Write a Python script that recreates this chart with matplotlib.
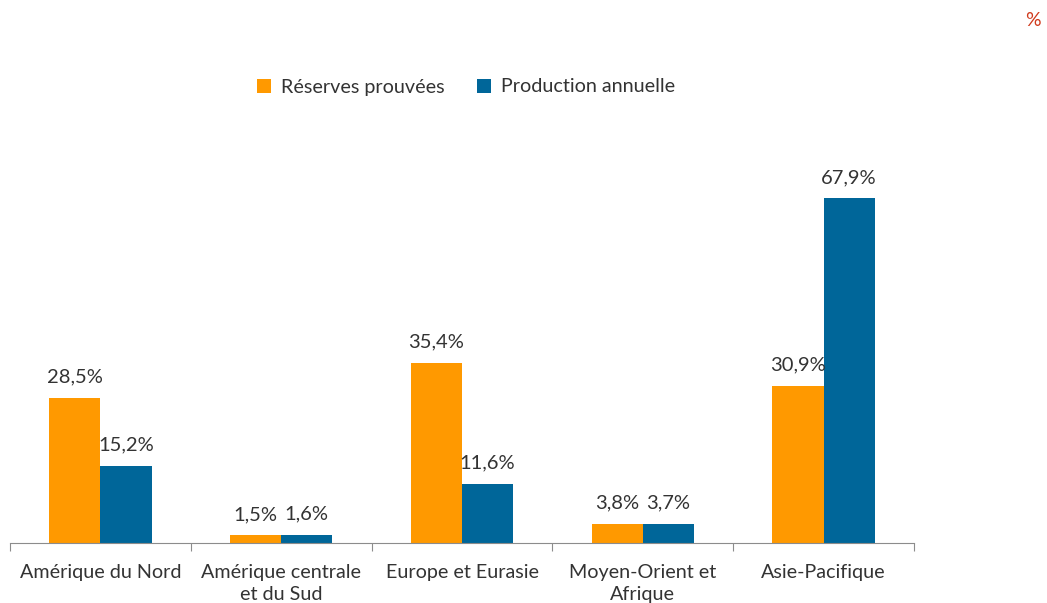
import numpy as np
import matplotlib.pyplot as plt

regions = ['Amérique du Nord', 'Amérique centrale\net du Sud', 'Europe et Eurasie',
           'Moyen-Orient et\nAfrique', 'Asie-Pacifique']
reserves = [28.5, 1.5, 35.4, 3.8, 30.9]
production = [15.2, 1.6, 11.6, 3.7, 67.9]
series_names = ['Réserves prouvées', 'Production annuelle']

plt.rcParams['font.family'] = ['Lato', 'DejaVu Sans']
orange = '#FF9900'
blue = '#006699'
txt = '#333333'

fig = plt.figure(figsize=(10.47, 6.03), dpi=100)
ax = fig.add_axes([10 / 1047, 60 / 603, 904 / 1047, 406 / 603])

index = np.arange(len(regions))
bar_width = 0.283
b1 = ax.bar(index - bar_width / 2, reserves, bar_width, color=orange, label=series_names[0])
b2 = ax.bar(index + bar_width / 2, production, bar_width, color=blue, label=series_names[1])

def fmt(v):
    return ('%.1f%%' % v).replace('.', ',')

for bars, vals in ((b1, reserves), (b2, production)):
    for rect, v in zip(bars, vals):
        ax.annotate(fmt(v), (rect.get_x() + rect.get_width() / 2, rect.get_height()),
                    xytext=(0, 9), textcoords='offset points', ha='center', va='bottom',
                    fontsize=14.5, color=txt)

ax.set_xlim(-0.5, len(regions) - 0.5)
ax.set_ylim(0, 80)
ax.set_yticks([])
for s in ['top', 'right', 'left']:
    ax.spines[s].set_visible(False)
ax.spines['bottom'].set_color('#8c8c8c')
ax.set_xticks(np.arange(len(regions) + 1) - 0.5, minor=False)
ax.set_xticklabels([''] * (len(regions) + 1))
ax.tick_params(axis='x', which='major', length=6, color='#8c8c8c')
ax.set_xticks(index, minor=True)
ax.set_xticklabels(regions, minor=True, fontsize=14.2, color=txt, linespacing=1.35)
ax.tick_params(axis='x', which='minor', length=0, pad=15)

fig.legend(loc='center', bbox_to_anchor=(466 / 1047, 1 - 87 / 603), ncol=2, frameon=False,
           fontsize=14.2, labelcolor=txt, handlelength=0.7, handleheight=0.7,
           columnspacing=1.65, handletextpad=0.5)
fig.text(1033 / 1047, 1 - 20 / 603, '%', color='#D03A1C', fontsize=14, ha='center', va='center')

plt.savefig('out.png', dpi=100)
